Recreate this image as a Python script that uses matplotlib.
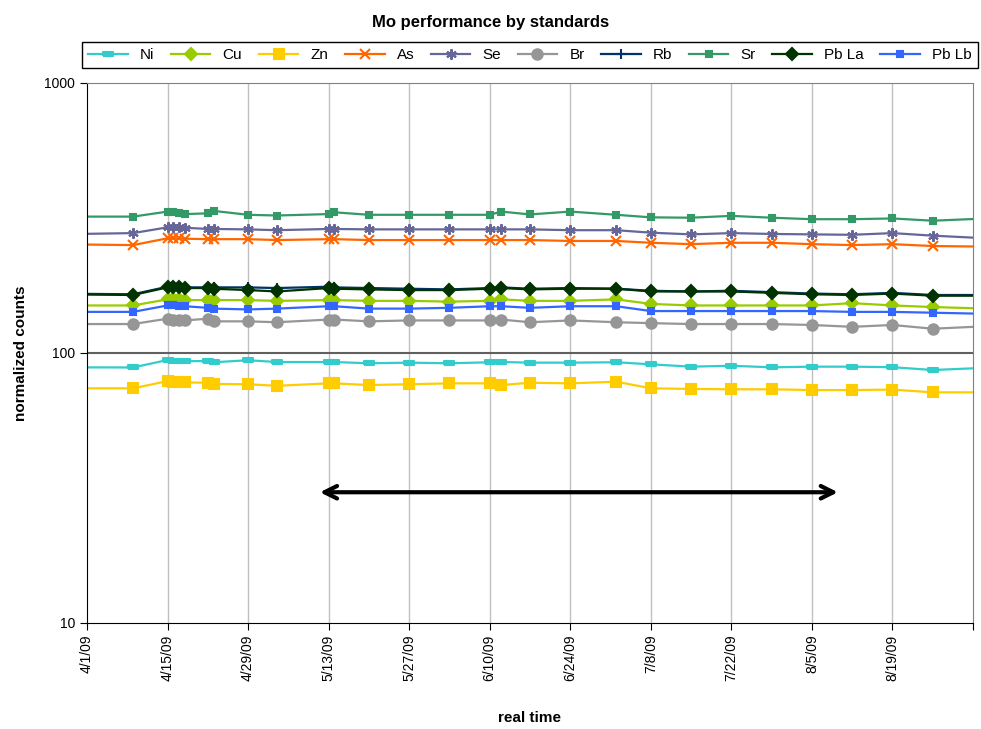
import pandas as pd
import matplotlib
matplotlib.use('Agg')
import matplotlib.pyplot as plt

plt.rcParams['font.family'] = ['Liberation Sans', 'DejaVu Sans']

# sample dates (first and last fall outside the visible axis range)
dates = pd.to_datetime([
    '2009-03-26', '2009-04-09', '2009-04-15', '2009-04-16', '2009-04-17', '2009-04-18',
    '2009-04-22', '2009-04-23', '2009-04-29', '2009-05-04', '2009-05-13', '2009-05-14',
    '2009-05-20', '2009-05-27', '2009-06-03', '2009-06-10', '2009-06-12', '2009-06-17',
    '2009-06-24', '2009-07-02', '2009-07-08', '2009-07-15', '2009-07-22', '2009-07-29',
    '2009-08-05', '2009-08-12', '2009-08-19', '2009-08-26', '2009-09-09'])

ni = [88.5, 88.4, 94.2, 93.5, 93.2, 93.2, 93.4, 92.4, 94.0, 92.6, 92.6, 92.6, 91.6, 92.1, 91.6,
      92.4, 92.6, 92.1, 92.1, 92.4, 90.8, 89.0, 89.7, 88.5, 89.0, 89.0, 88.6, 86.5, 89.0]
cu = [150, 150, 158, 158, 158, 157, 157, 157, 157, 156, 157, 157, 156, 156, 155,
      156, 158, 156, 156, 158, 152, 150, 150, 150, 150, 153, 150, 148, 145]
zn = [74.0, 74.0, 78.7, 78.3, 78.1, 77.8, 77.6, 76.8, 76.6, 75.6, 77.2, 77.2, 76.1, 76.6, 77.2,
      77.2, 76.1, 77.6, 77.2, 78.3, 74.0, 73.6, 73.4, 73.4, 72.9, 72.9, 73.2, 71.5, 71.5]
as_ = [253, 251, 266, 266, 266, 265, 264, 264, 264, 262, 264, 264, 262, 262, 262,
       262, 262, 262, 260, 260, 256, 253, 256, 256, 253, 251, 253, 249, 247]
se = [275, 278, 292, 292, 292, 291, 288, 288, 287, 285, 288, 288, 287, 287, 287,
      287, 287, 287, 285, 285, 279, 275, 278, 276, 275, 274, 278, 272, 263]
br = [128, 128, 134, 133, 133, 132, 134, 131, 131, 130, 133, 133, 131, 132, 132,
      132, 133, 130, 132, 130, 129, 128, 128, 128, 127, 125, 127, 123, 127]
rb = [166, 165, 176, 176, 176, 175, 175, 175, 175, 174, 176, 175, 174, 173, 172,
      174, 175, 173, 174, 173, 170, 169, 170, 168, 166, 165, 167, 164, 164]
sr = [320, 320, 334, 334, 329, 327, 329, 336, 325, 323, 327, 332, 325, 325, 325,
      325, 334, 326, 334, 325, 318, 317, 322, 317, 313, 313, 315, 309, 318]
pb_la = [165, 164, 175, 175, 175, 174, 174, 173, 171, 169, 174, 173, 172, 171, 171,
         173, 174, 172, 173, 173, 169, 169, 169, 167, 165, 164, 166, 163, 163]
pb_lb = [142, 142, 150, 150, 149, 149, 147, 146, 145, 146, 149, 149, 146, 146, 147,
         149, 149, 147, 149, 149, 143, 143, 143, 143, 143, 142, 142, 141, 139]

arrow_start = pd.Timestamp('2009-05-11')
arrow_end = pd.Timestamp('2009-08-10')
arrow_level = 30.5

# horizontal bar marker for Ni
bar = [(-1, -0.45), (1, -0.45), (1, 0.45), (-1, 0.45), (-1, -0.45)]

series = [
    ('Ni', ni, '#33CCCC', bar, 6.5),
    ('Cu', cu, '#99CC00', 'D', 6.5),
    ('Zn', zn, '#FFCC00', 's', 7),
    ('As', as_, '#FF6600', 'x', 6.5),
    ('Se', se, '#666699', (6, 2, 0), 7.5),
    ('Br', br, '#969696', 'o', 7.5),
    ('Rb', rb, '#003366', '+', 7.5),
    ('Sr', sr, '#339966', 's', 3.8),
    ('Pb La', pb_la, '#003300', 'D', 6.5),
    ('Pb Lb', pb_lb, '#3366FF', 's', 3.8),
]

fig = plt.figure(figsize=(9.81, 7.29), dpi=100)
ax = fig.add_axes([87 / 981, 1 - 623 / 729, (973 - 87) / 981, (623 - 83) / 729])

for name, vals, color, mk, ms in series:
    ax.plot(dates, vals, color=color, lw=1.6, marker=mk, ms=ms,
            mec=color, mfc=color, mew=1.5, label=name)

ax.set_yscale('log')
ax.set_ylim(10, 1000)
ax.set_yticks([10, 100, 1000])
ax.set_yticklabels(['10', '100', '1000'], fontsize=10)
ax.yaxis.set_minor_locator(matplotlib.ticker.NullLocator())

ticks = pd.date_range('2009-04-01', '2009-09-02', freq='14D')
ax.set_xlim(ticks[0], ticks[-1])
ax.set_xticks(ticks)
labels = [f'{d.month}/{d.day}/{d.strftime("%y")}' for d in ticks]
labels[-1] = ''
ax.set_xticklabels(labels, rotation=90, fontsize=10)

for t in ticks[1:-1]:
    ax.axvline(t, color='#C0C0C0', lw=1, zorder=0)
ax.axhline(100, color='#606060', lw=1.5, zorder=0)

ax.spines['left'].set_color('black')
ax.spines['bottom'].set_color('black')
ax.spines['top'].set_color('#808080')
ax.spines['right'].set_color('#808080')
ax.tick_params(direction='out', length=5, color='black')

ax.annotate('', xy=(arrow_end, arrow_level), xytext=(arrow_start, arrow_level),
            arrowprops=dict(arrowstyle='<->, head_length=0.9, head_width=0.45',
                            color='black', lw=3))

ax.set_ylabel('normalized counts', fontsize=11, fontweight='bold', labelpad=12)
ax.set_xlabel('real time', fontsize=11, fontweight='bold', labelpad=21)
fig.suptitle('Mo performance by standards', fontsize=12, fontweight='bold', y=0.98)

fig.legend(loc='lower left', ncol=10, mode='expand',
           bbox_to_anchor=(82 / 981, 1 - 68 / 729, (978 - 82) / 981, 26 / 729),
           fancybox=False, edgecolor='black', fontsize=11, handlelength=2.6,
           borderaxespad=0, framealpha=1)

fig.savefig('out.png', dpi=100)
